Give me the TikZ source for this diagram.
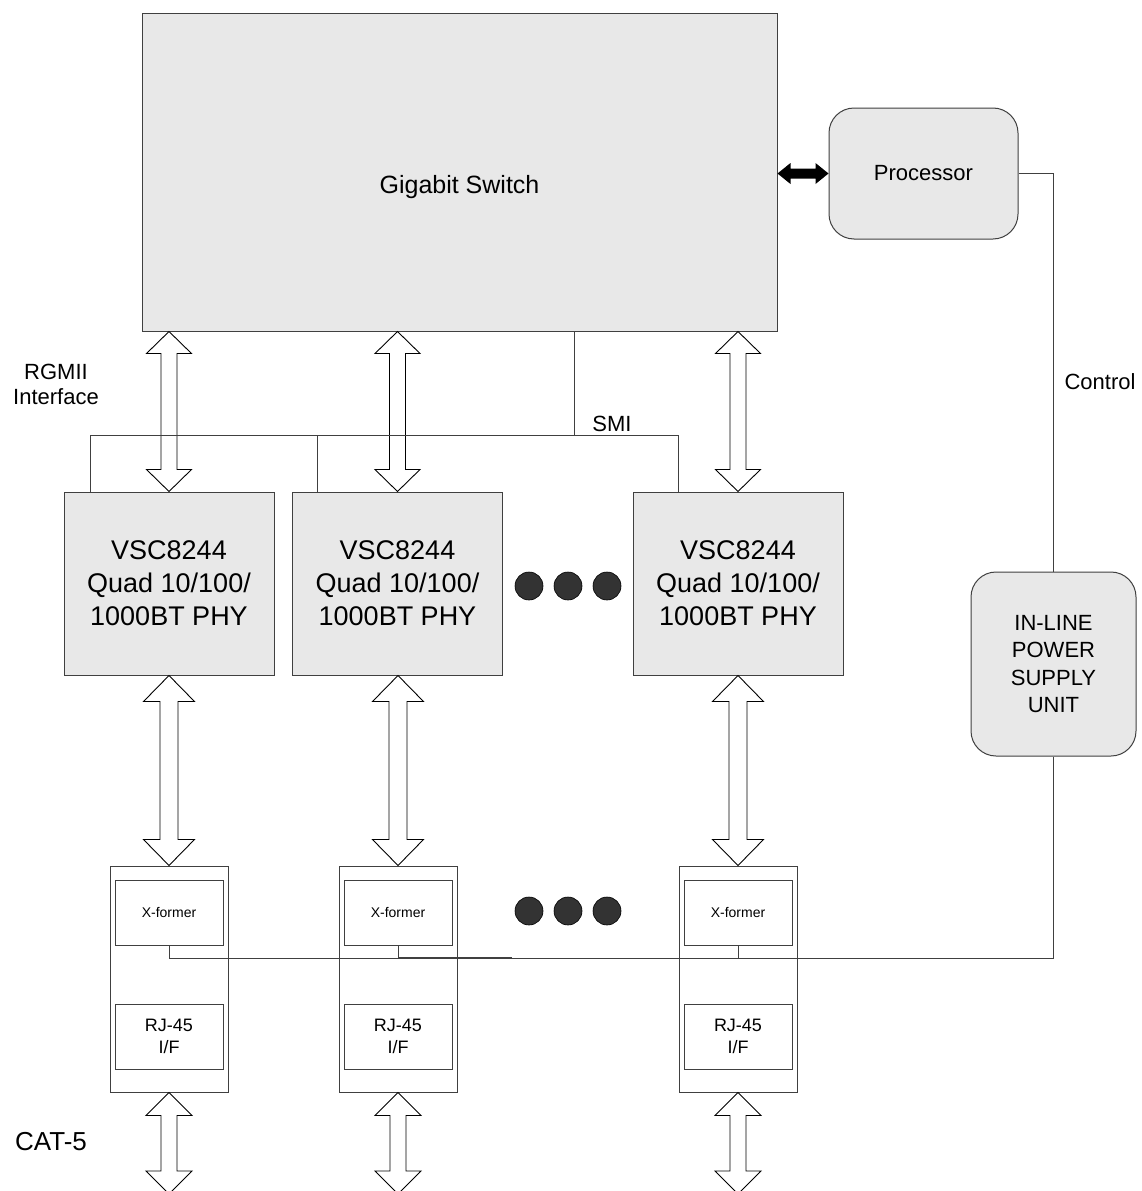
\documentclass[tikz,border=0pt]{standalone}
\usepackage{fontspec}
\setmainfont{Liberation Sans}
\usetikzlibrary{calc}
\definecolor{boxfill}{HTML}{E8E8E8}
\definecolor{edge}{HTML}{404040}
\definecolor{dotc}{HTML}{333333}
\newcommand{\hollowarrow}[5]{%
  \draw[harrowstyle] let \p1=#1, \p2=#2 in
    (\x1,\y1) -- (\x1+#3,\y1-#5) -- (\x1+#4,\y1-#5) -- (\x1+#4,\y2+#5) --
    (\x1+#3,\y2+#5) -- (\x1,\y2) -- (\x1-#3,\y2+#5) -- (\x1-#4,\y2+#5) --
    (\x1-#4,\y1-#5) -- (\x1-#3,\y1-#5) -- cycle;}
\tikzset{
  box/.style={draw=edge, fill=boxfill, line width=1pt, inner sep=0pt},
  phybox/.style={box, minimum width=210pt, minimum height=183pt, align=center,
    font=\fontsize{27}{33}\selectfont},
  rbox/.style={box, rounded corners=25pt, align=center,
    font=\fontsize{22}{27.5}\selectfont},
  colbox/.style={draw=edge, line width=1pt, inner sep=0pt,
    minimum width=118pt, minimum height=226pt},
  xfbox/.style={draw=edge, fill=white, line width=1pt, inner sep=0pt,
    minimum width=108pt, minimum height=65pt, font=\fontsize{14}{17}\selectfont},
  rjbox/.style={draw=edge, fill=white, line width=1pt, inner sep=0pt,
    minimum width=108pt, minimum height=65pt, align=center,
    font=\fontsize{18}{22}\selectfont},
  wire/.style={draw=edge, line width=1pt},
  harrowstyle/.style={draw=black, fill=white, line width=0.9pt, line join=miter},
  blob/.style={circle, fill=dotc, draw=black, line width=0.6pt,
    minimum size=28pt, inner sep=0pt},
  lbl/.style={inner sep=0pt, align=center, font=\fontsize{22}{25}\selectfont}
}
\begin{document}
\begin{tikzpicture}[x=1pt, y=-1pt]
\useasboundingbox[fill=white] (0,0) rectangle (1142,1191);

% main blocks
\node[box, minimum width=635pt, minimum height=318pt] (sw) at (459.5,172) {};
\node[lbl, font=\fontsize{25}{30}\selectfont] (swl) at (459.5,187) {Gigabit Switch};
\node[rbox, minimum width=189pt, minimum height=131pt] (proc) at (923.5,173.5) {Processor};
\node[rbox, minimum width=165pt, minimum height=184pt] (psu) at (1053.5,664)
  {IN-LINE\\POWER\\SUPPLY\\UNIT};

\node[phybox] (phy1) at (169,583.5) {VSC8244\\Quad 10/100/\\1000BT PHY};
\node[phybox] (phy2) at (397.5,583.5) {VSC8244\\Quad 10/100/\\1000BT PHY};
\node[phybox] (phy3) at (738,583.5) {VSC8244\\Quad 10/100/\\1000BT PHY};

% magnetics / connector columns
\node[colbox] (col1) at (169,979) {};
\node[colbox] (col2) at (398,979) {};
\node[colbox] (col3) at (738,979) {};
\node[xfbox] (xf1) at (169,912.5) {X-former};
\node[xfbox] (xf2) at (398,912.5) {X-former};
\node[xfbox] (xf3) at (738,912.5) {X-former};
\node[rjbox] (rj1) at (169,1036.5) {RJ-45\\I/F};
\node[rjbox] (rj2) at (398,1036.5) {RJ-45\\I/F};
\node[rjbox] (rj3) at (738,1036.5) {RJ-45\\I/F};

% ellipsis dots
\node[blob] (d1) at (529,586) {};
\node[blob] (d2) at (568,586) {};
\node[blob] (d3) at (607,586) {};
\node[blob] (d4) at (529,911) {};
\node[blob] (d5) at (568,911) {};
\node[blob] (d6) at (607,911) {};

% labels
\node[lbl] (rgmii) at (56,384.5) {RGMII\\Interface};
\node[lbl] (smil) at (612,424) {SMI};
\node[lbl] (ctrl) at (1100,382) {Control};
\node[lbl, font=\fontsize{26}{30}\selectfont] (cat) at (51,1142) {CAT-5};

% hollow bus arrows
\hollowarrow{(sw.south -| phy1.north)}{(phy1.north)}{22.5pt}{8pt}{22pt}
\hollowarrow{(sw.south -| phy2.north)}{(phy2.north)}{22.5pt}{8pt}{22pt}
\hollowarrow{(sw.south -| phy3.north)}{(phy3.north)}{22.5pt}{8pt}{22pt}
\hollowarrow{(phy1.south)}{(col1.north)}{25.5pt}{9pt}{26pt}
\hollowarrow{(phy2.south -| col2.north)}{(col2.north)}{25.5pt}{9pt}{26pt}
\hollowarrow{(phy3.south)}{(col3.north)}{25.5pt}{9pt}{26pt}
\coordinate (e1) at (169,1194);
\coordinate (e2) at (398,1194);
\coordinate (e3) at (738,1194);
\hollowarrow{(col1.south)}{(e1)}{23pt}{8pt}{23pt}
\hollowarrow{(col2.south)}{(e2)}{23pt}{8pt}{23pt}
\hollowarrow{(col3.south)}{(e3)}{23pt}{8pt}{23pt}

% switch <-> processor thick arrow
\fill[black] let \p1=(sw.east |- proc.west), \p2=(proc.west) in
  (\x1,\y1) -- (\x1+13pt,\y1+10.5pt) -- (\x1+13pt,\y1+5pt) -- (\x2-13pt,\y1+5pt) --
  (\x2-13pt,\y1+10.5pt) -- (\x2,\y1) -- (\x2-13pt,\y1-10.5pt) -- (\x2-13pt,\y1-5pt) --
  (\x1+13pt,\y1-5pt) -- (\x1+13pt,\y1-10.5pt) -- cycle;

% SMI management bus
\coordinate (smiT) at (574,435);
\coordinate (smiL) at (90,435);
\coordinate (smiM) at (317,435);
\coordinate (smiR) at (678,435);
\draw[wire] (smiT |- sw.south) -- (smiT);
\draw[wire] (phy1.north -| smiL) |- (smiR) -- (smiR |- phy3.north);
\draw[wire] (smiM) -- (smiM |- phy2.north);

% control / power bus
\coordinate (bus) at (169,958);
\coordinate (busk) at (512,958);
\draw[wire] (proc.east) -| (psu.north);
\draw[wire] (psu.south) |- (bus) -- (xf1.south);
\draw[wire] (xf2.south) -- (xf2.south |- bus);
\draw[wire] (xf3.south) -- (xf3.south |- bus);
\draw[wire, line width=1.7pt] (xf2.south |- bus) -- (busk);
\end{tikzpicture}
\end{document}
